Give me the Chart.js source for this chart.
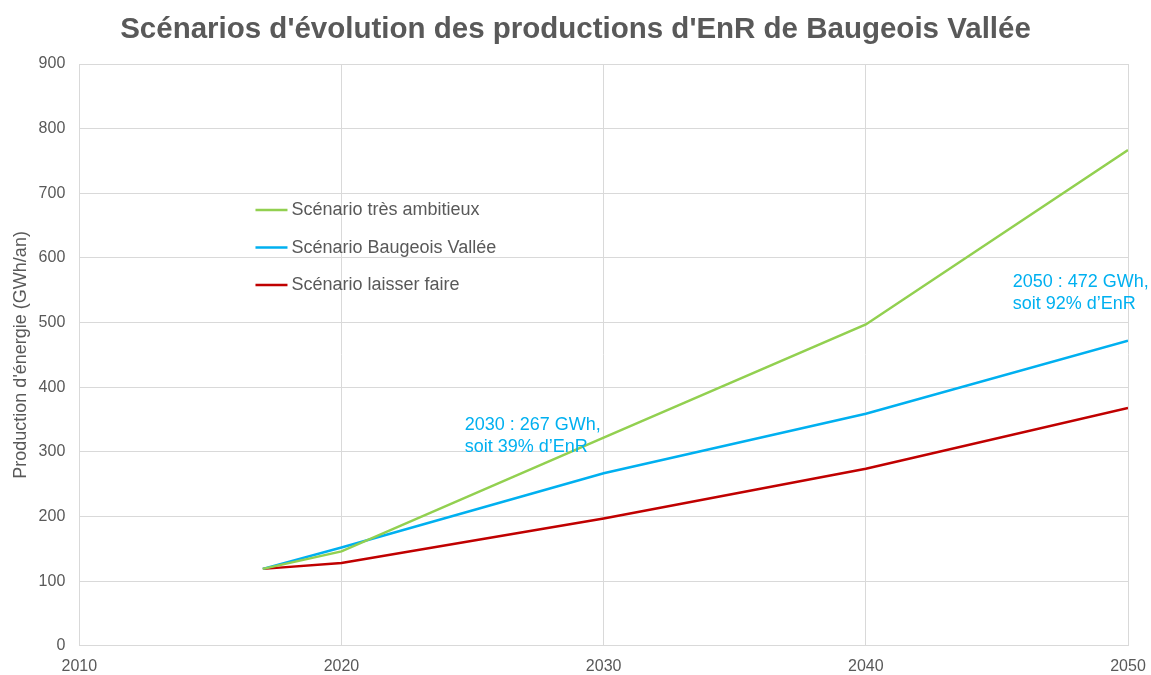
<!DOCTYPE html>
<html>
<head>
<meta charset="utf-8">
<script src="https://cdn.jsdelivr.net/npm/chart.js@4"></script>
<style>
  body { margin: 0; background: #fff; }
  #wrap { width: 1151px; height: 675px; }
</style>
</head>
<body>
<div id="wrap"><canvas id="myChart" width="1151" height="675"></canvas></div>
<script>
// data
const years = [2017, 2020, 2030, 2040, 2050];
const tresAmbitieux = [119, 146, 322, 497, 767];
const baugeoisVallee = [119, 152, 267, 359, 472];
const laisserFaire = [119, 128, 197, 274, 368];
const xTicks = [2010, 2020, 2030, 2040, 2050];
const yTicks = [0, 100, 200, 300, 400, 500, 600, 700, 800, 900];

const seriesNames = ['Scénario très ambitieux', 'Scénario Baugeois Vallée', 'Scénario laisser faire'];
const seriesColors = ['#92d050', '#00b0f0', '#c00000'];

const chartTitle = "Scénarios d'évolution des productions d'EnR de Baugeois Vallée";
const notes = [
  { x: 2024.7, y: 342, lines: ['2030 : 267 GWh,', "soit 39% d\u2019EnR"] },
  { x: 2045.6, y: 562, lines: ['2050 : 472 GWh,', "soit 92% d\u2019EnR"] }
];

const grey = '#595959';
const font = 'Arial, "Liberation Sans", sans-serif';

const pts = vals => years.map((y, i) => ({ x: y, y: vals[i] }));

// title, legend + blue notes
const overlay = {
  id: 'overlay',
  afterDatasetsDraw(chart) {
    const ctx = chart.ctx;
    const xs = chart.scales.x, ys = chart.scales.y;
    ctx.save();
    ctx.textBaseline = 'middle';

    // title centred on the whole canvas
    ctx.font = 'bold 29.5px ' + font;
    ctx.fillStyle = grey;
    ctx.textAlign = 'center';
    ctx.fillText(chartTitle, chart.width / 2, 30);
    ctx.textAlign = 'left';

    // legend
    ctx.font = '18px ' + font;
    const lx = xs.getPixelForValue(2016.72);
    seriesNames.forEach((name, i) => {
      const ly = ys.getPixelForValue(674 - i * 58);
      ctx.strokeStyle = seriesColors[i];
      ctx.lineWidth = 2.5;
      ctx.beginPath();
      ctx.moveTo(lx, ly);
      ctx.lineTo(lx + 32, ly);
      ctx.stroke();
      ctx.fillStyle = grey;
      ctx.fillText(name, lx + 36, ly);
    });

    // notes
    ctx.fillStyle = '#00b0f0';
    notes.forEach(n => {
      const px = xs.getPixelForValue(n.x), py = ys.getPixelForValue(n.y);
      n.lines.forEach((t, j) => ctx.fillText(t, px, py + j * 22));
    });
    ctx.restore();
  }
};

new Chart(document.getElementById('myChart').getContext('2d'), {
  type: 'line',
  data: {
    datasets: [
      { label: seriesNames[0], data: pts(tresAmbitieux), borderColor: seriesColors[0] },
      { label: seriesNames[1], data: pts(baugeoisVallee), borderColor: seriesColors[1] },
      { label: seriesNames[2], data: pts(laisserFaire), borderColor: seriesColors[2] }
    ].map(d => Object.assign(d, { borderWidth: 2.5, pointRadius: 0, tension: 0, fill: false }))
  },
  options: {
    responsive: false,
    animation: false,
    layout: { padding: { left: 10, right: 0, top: 64, bottom: -12 } },
    plugins: {
      legend: { display: false },
      tooltip: { enabled: false },
      title: { display: false }
    },
    scales: {
      x: {
        type: 'linear',
        min: 2010, max: 2050,
        afterBuildTicks: s => { s.ticks = xTicks.map(v => ({ value: v })); },
        afterFit: s => { s.paddingRight = 23; },
        ticks: { color: grey, font: { family: font, size: 16 }, callback: v => String(v), padding: 11, maxRotation: 0 },
        grid: { color: '#d9d9d9', drawTicks: false },
        border: { color: '#d9d9d9' }
      },
      y: {
        min: 0, max: 900,
        afterBuildTicks: s => { s.ticks = yTicks.map(v => ({ value: v })); },
        ticks: { color: grey, font: { family: font, size: 16 }, padding: 14 },
        grid: { color: '#d9d9d9', drawTicks: false },
        border: { color: '#d9d9d9' },
        title: {
          display: true,
          text: "Production d'énergie (GWh/an)",
          color: grey,
          font: { family: font, size: 18 },
          padding: { top: 0, bottom: -7 }
        }
      }
    }
  },
  plugins: [overlay]
});
</script>
</body>
</html>
